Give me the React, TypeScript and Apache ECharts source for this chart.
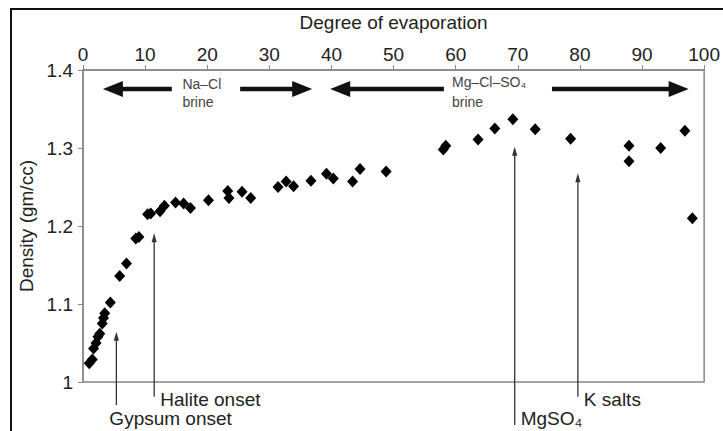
import React, { useEffect, useRef } from "react";
import * as echarts from "echarts";

// Degree of evaporation (%) and brine density (g/cc) for each sample
const degree = [
  1.0, 1.5, 1.7, 2.1, 2.4, 2.7, 3.1, 3.3, 3.5, 4.4,
  5.9, 7.0, 8.5, 9.0, 10.4, 10.9, 12.4, 13.1, 14.9, 16.2,
  17.3, 20.2, 23.3, 23.5, 25.6, 27.0, 31.4, 32.7, 33.9, 36.7,
  39.2, 40.3, 43.4, 44.6, 48.8, 58.0, 58.4, 63.6, 66.3, 69.2,
  72.8, 78.5, 87.9, 87.9, 93.0, 96.9, 98.1,
];
const density = [
  1.024, 1.029, 1.043, 1.050, 1.058, 1.062, 1.075, 1.082, 1.088, 1.102,
  1.136, 1.152, 1.184, 1.186, 1.215, 1.216, 1.219, 1.226, 1.230, 1.229,
  1.223, 1.233, 1.245, 1.236, 1.244, 1.236, 1.250, 1.257, 1.251, 1.258,
  1.267, 1.261, 1.257, 1.273, 1.270, 1.298, 1.303, 1.311, 1.325, 1.337,
  1.324, 1.312, 1.303, 1.283, 1.300, 1.322, 1.210,
];

// Brine-stage arrows along the top: [fromX, toX] at a fixed density level
const brineArrowY = 1.3758;
const brineArrows: [number, number][] = [
  [14.3, 3.2],
  [25.3, 36.9],
  [58.1, 39.8],
  [75.5, 97.5],
];
const brineLabels = [
  { x: 16.0, lines: ["Na–Cl", "brine"], y: [1.3818, 1.3596] },
  { x: 59.4, lines: ["Mg–Cl–SO₄", "brine"], y: [1.3842, 1.3585] },
];

// Mineral onset markers: x position, arrow head density, tail density, label
const onsetX = [5.37, 11.46, 69.5, 79.67];
const onsetHead = [1.0645, 1.1906, 1.3017, 1.2676];
const onsetTail = [0.9705, 0.981, 0.945, 0.981];
const onsetLabels = ["Gypsum onset", "Halite onset", "MgSO₄", "K salts"];
const onsetLabelY = [0.9535, 0.977, 0.9535, 0.977];

const FONT = "'Liberation Sans', Arial, sans-serif";

export default function App() {
  const ref = useRef<HTMLDivElement>(null);

  useEffect(() => {
    if (!ref.current) return;
    const chart = echarts.init(ref.current, null, { renderer: "svg" });

    chart.setOption({
      animation: false,
      backgroundColor: "#fff",
      grid: {
        left: 83,
        right: 12,
        top: 70,
        bottom: 49,
        show: true,
        borderColor: "#888",
        borderWidth: 1.5,
      },
      xAxis: {
        type: "value",
        position: "top",
        min: 0,
        max: 100,
        interval: 10,
        name: "Degree of evaporation",
        nameLocation: "middle",
        nameGap: 38,
        nameTextStyle: { fontFamily: FONT, fontSize: 19, color: "#222" },
        axisLine: { show: true, lineStyle: { color: "#888", width: 1.5 } },
        axisTick: { show: true, inside: false, length: 5, lineStyle: { color: "#888" } },
        axisLabel: { fontFamily: FONT, fontSize: 19, color: "#222", margin: 6 },
        splitLine: { show: false },
      },
      yAxis: {
        type: "value",
        min: 1,
        max: 1.4,
        interval: 0.1,
        name: "Density (gm/cc)",
        nameLocation: "middle",
        nameGap: 46,
        nameTextStyle: { fontFamily: FONT, fontSize: 19, color: "#222" },
        axisLine: { show: true, lineStyle: { color: "#888", width: 1.5 } },
        axisTick: { show: true, inside: false, length: 5, lineStyle: { color: "#888" } },
        axisLabel: {
          fontFamily: FONT,
          fontSize: 19,
          color: "#222",
          margin: 10,
          formatter: (v: number) => String(+v.toFixed(1)),
        },
        splitLine: { show: false },
      },
      series: [
        {
          type: "scatter",
          data: degree.map((d, i) => [d, density[i]]),
          symbol: "diamond",
          symbolSize: [11, 12],
          itemStyle: { color: "#000", opacity: 1 },
          clip: false,
        },
      ],
    });

    const px = (x: number, y: number) =>
      chart.convertToPixel({ gridIndex: 0 }, [x, y]) as number[];

    const arrow = (
      from: number[],
      to: number[],
      width: number,
      headLen: number,
      headHalf: number,
      color: string
    ) => {
      const dx = to[0] - from[0];
      const dy = to[1] - from[1];
      const len = Math.hypot(dx, dy);
      const ux = dx / len;
      const uy = dy / len;
      const bx = to[0] - ux * headLen;
      const by = to[1] - uy * headLen;
      return [
        {
          type: "line",
          shape: { x1: from[0], y1: from[1], x2: bx + ux * 1, y2: by + uy * 1 },
          style: { stroke: color, lineWidth: width },
          silent: true,
        },
        {
          type: "polygon",
          shape: {
            points: [
              [to[0], to[1]],
              [bx - uy * headHalf, by + ux * headHalf],
              [bx + uy * headHalf, by - ux * headHalf],
            ],
          },
          style: { fill: color },
          silent: true,
        },
      ];
    };

    const elements: any[] = [];

    // outer frame
    elements.push({
      type: "rect",
      shape: { x: 11, y: 9, width: 760, height: 460 },
      style: { fill: "none", stroke: "#111", lineWidth: 2 },
      silent: true,
    });

    brineArrows.forEach(([a, b]) => {
      elements.push(
        ...arrow(px(a, brineArrowY), px(b, brineArrowY), 4.5, 20, 8, "#111")
      );
    });

    brineLabels.forEach((lab) => {
      lab.lines.forEach((line, k) => {
        const p = px(lab.x, lab.y[k]);
        elements.push({
          type: "text",
          x: p[0],
          y: p[1],
          style: {
            text: line,
            fontFamily: FONT,
            fontSize: 14,
            fill: "#444",
            textAlign: "left",
            textVerticalAlign: "middle",
          },
          silent: true,
        });
      });
    });

    onsetX.forEach((x, i) => {
      elements.push(...arrow(px(x, onsetTail[i]), px(x, onsetHead[i]), 1.3, 9, 2.6, "#333"));
      const p = px(x, onsetLabelY[i]);
      elements.push({
        type: "text",
        x: i === 0 ? p[0] - 7 : p[0] + 6,
        y: p[1],
        style: {
          text: onsetLabels[i],
          fontFamily: FONT,
          fontSize: 19,
          fill: "#222",
          textAlign: "left",
          textVerticalAlign: "middle",
        },
        silent: true,
      });
    });

    chart.setOption({ graphic: { elements } });

    return () => chart.dispose();
  }, []);

  return (
    <div
      ref={ref}
      style={{ position: "absolute", left: 0, top: 0, width: 723, height: 431 }}
    />
  );
}
